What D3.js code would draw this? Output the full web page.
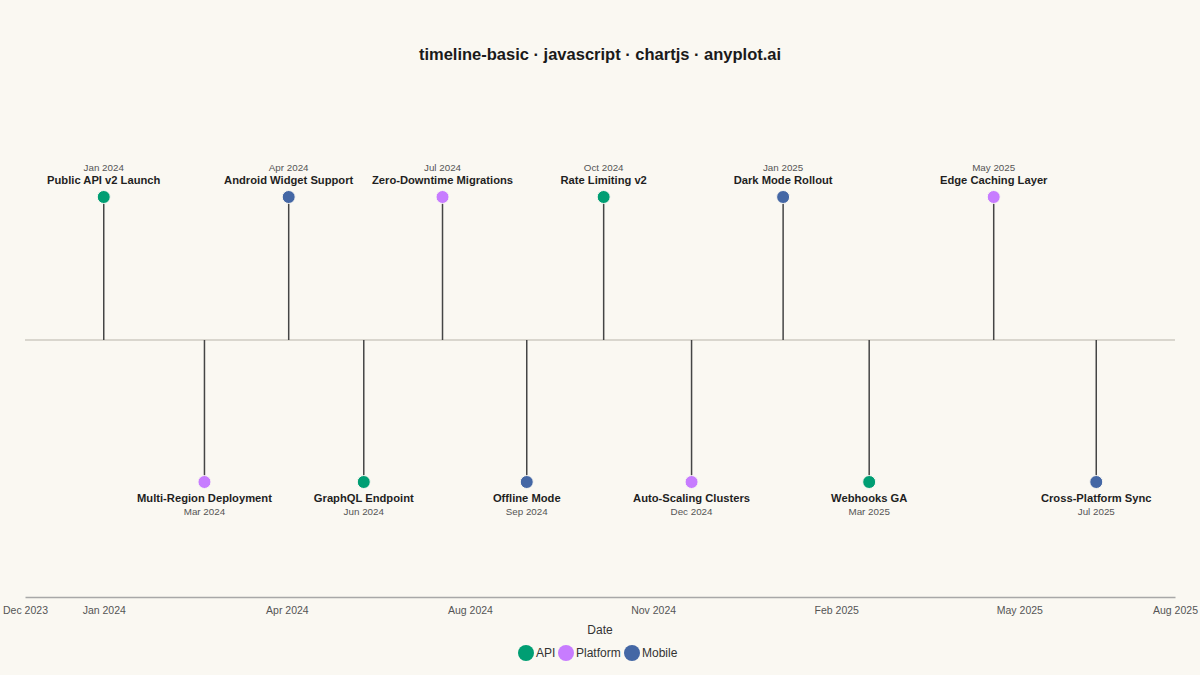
<!DOCTYPE html>
<html>
<head>
<meta charset="utf-8">
<script src="https://cdn.jsdelivr.net/npm/d3@7"></script>
<style>
  html, body { margin: 0; padding: 0; background: #faf8f2; }
  svg { display: block; font-family: "Liberation Sans", Arial, sans-serif; }
</style>
</head>
<body>
<div id="chart"></div>
<script>
// milestone data
const eventNames = [
  "Public API v2 Launch", "Multi-Region Deployment", "Android Widget Support",
  "GraphQL Endpoint", "Zero-Downtime Migrations", "Offline Mode",
  "Rate Limiting v2", "Auto-Scaling Clusters", "Dark Mode Rollout",
  "Webhooks GA", "Edge Caching Layer", "Cross-Platform Sync"
];
const eventDates = [
  "2024-01-15", "2024-03-10", "2024-04-25", "2024-06-05", "2024-07-18", "2024-09-02",
  "2024-10-14", "2024-12-01", "2025-01-20", "2025-03-08", "2025-05-15", "2025-07-10"
];
const eventCategories = [
  "API", "Platform", "Mobile", "API", "Platform", "Mobile",
  "API", "Platform", "Mobile", "API", "Platform", "Mobile"
];
const categories = ["API", "Platform", "Mobile"];
const categoryColors = ["#009e73", "#c77cff", "#4467a5"];

// axis range and ticks
const axisDomain = ["2023-12-03", "2025-08-22"];
const tickDates = [
  "2023-12-03", "2024-01-15", "2024-04-24", "2024-08-02", "2024-11-10",
  "2025-02-18", "2025-05-29", "2025-08-22"
];

const width = 1200, height = 675;
const margin = { left: 25, right: 25 };
const baseY = 340, axisY = 597;
const topDotY = 197, bottomDotY = 482;

const parse = d3.utcParse("%Y-%m-%d");
const fmtMonth = d3.utcFormat("%b %Y");

const data = eventNames.map((name, i) => ({
  name: name,
  date: parse(eventDates[i]),
  cat: eventCategories[i],
  up: i % 2 === 0
}));

const svg = d3.select("#chart")
  .append("svg")
  .attr("width", width)
  .attr("height", height);

svg.append("rect")
  .attr("width", width)
  .attr("height", height)
  .attr("fill", "#faf8f2");

const x = d3.scaleUtc()
  .domain(axisDomain.map(parse))
  .range([margin.left, width - margin.right]);

const color = d3.scaleOrdinal().domain(categories).range(categoryColors);

// title
svg.append("text")
  .attr("x", width / 2)
  .attr("y", 60)
  .attr("text-anchor", "middle")
  .style("font-size", "16.5px")
  .style("font-weight", "bold")
  .style("fill", "#1a1a1a")
  .text("timeline-basic · javascript · chartjs · anyplot.ai");

// center line
svg.append("line")
  .attr("x1", x.range()[0])
  .attr("x2", x.range()[1])
  .attr("y1", baseY)
  .attr("y2", baseY)
  .attr("stroke", "#d9d6ce")
  .attr("stroke-width", 2);

// bottom axis
const xAxis = d3.axisBottom(x)
  .tickValues(tickDates.map(parse))
  .tickFormat(fmtMonth)
  .tickSize(0)
  .tickPadding(10);

const gx = svg.append("g")
  .attr("transform", `translate(0, ${axisY})`)
  .call(xAxis);
gx.select(".domain")
  .attr("stroke", "#a8a8a8")
  .attr("stroke-width", 1.5);
gx.selectAll(".tick text")
  .style("font-size", "10.5px")
  .style("font-family", "'Liberation Sans', Arial, sans-serif")
  .style("fill", "#555");

svg.append("text")
  .attr("x", width / 2)
  .attr("y", 634)
  .attr("text-anchor", "middle")
  .style("font-size", "12px")
  .style("fill", "#333")
  .text("Date");

// stems
const ev = svg.append("g")
  .selectAll("g")
  .data(data)
  .join("g");

ev.append("line")
  .attr("x1", d => x(d.date))
  .attr("x2", d => x(d.date))
  .attr("y1", baseY)
  .attr("y2", d => (d.up ? topDotY : bottomDotY))
  .attr("stroke", "#454545")
  .attr("stroke-width", 1.5);

ev.append("circle")
  .attr("cx", d => x(d.date))
  .attr("cy", d => (d.up ? topDotY : bottomDotY))
  .attr("r", 6.5)
  .attr("fill", d => color(d.cat))
  .attr("stroke", "#faf8f2")
  .attr("stroke-width", 1);

ev.append("text")
  .attr("x", d => x(d.date))
  .attr("y", d => (d.up ? 184 : 502))
  .attr("text-anchor", "middle")
  .style("font-size", "11.2px")
  .style("font-weight", "bold")
  .style("fill", "#1f1f1f")
  .text(d => d.name);

ev.append("text")
  .attr("x", d => x(d.date))
  .attr("y", d => (d.up ? 170.5 : 515))
  .attr("text-anchor", "middle")
  .style("font-size", "9.8px")
  .style("fill", "#555")
  .text(d => fmtMonth(d.date));

// legend
const legendX = [526, 566, 632];
const legend = svg.append("g")
  .selectAll("g")
  .data(categories)
  .join("g")
  .attr("transform", (d, i) => `translate(${legendX[i]}, 653)`);

legend.append("circle")
  .attr("r", 8)
  .attr("fill", d => color(d));

legend.append("text")
  .attr("x", 10)
  .attr("dy", "0.35em")
  .style("font-size", "12px")
  .style("fill", "#333")
  .text(d => d);
</script>
</body>
</html>
